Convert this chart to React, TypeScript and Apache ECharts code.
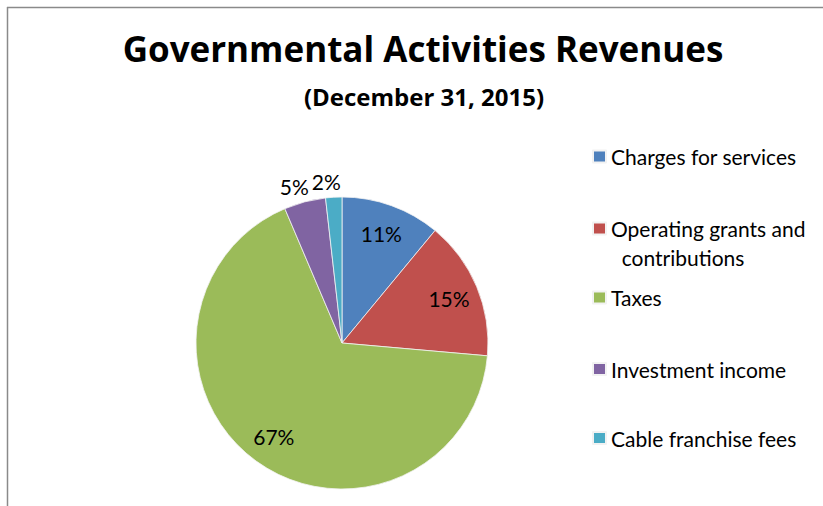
import React, { useEffect, useRef } from "react";
import * as echarts from "echarts";

const categories = [
  "Charges for services",
  "Operating grants and contributions",
  "Taxes",
  "Investment income",
  "Cable franchise fees",
];
const values = [11.0, 15.4, 67.2, 4.6, 1.8];
const colors = ["#4F81BD", "#C0504D", "#9BBB59", "#8064A2", "#4BACC6"];
const legendTops = [142, 185, 283, 354.5, 423.5];
const titleText = "Governmental Activities Revenues";
const subtitleText = "(December 31, 2015)";

const FONT = "Lato, 'Noto Sans', sans-serif";
const TITLE_FONT = "'Open Sans', Lato, sans-serif";

export default function App() {
  const ref = useRef<HTMLDivElement>(null);
  useEffect(() => {
    document.body.style.margin = "0";
    const chart = echarts.init(ref.current!, null, { renderer: "svg" });
    const data = categories.map((name, i) => ({
      name,
      value: values[i],
      itemStyle: { color: colors[i] },
    }));
    const center = ["342", "343"];
    const outerR = 146;
    const labelData = categories.map((name, i) => {
      const outside = values[i] < 8;
      return {
        name,
        value: values[i],
        label: outside
          ? { position: "outside", distanceToLabelLine: -8 }
          : { position: "inside" },
        labelLine: { show: false, length: outside ? 16 : 0, length2: 0 },
      };
    });
    const legends = categories.map((name, i) => ({
      show: true,
      orient: "vertical",
      left: 592,
      top: legendTops[i],
      padding: 0,
      itemWidth: 13,
      itemHeight: 12,
      itemGap: 5,
      icon: "rect",
      selectedMode: false,
      data: [name],
      formatter: (n: string) =>
        n === "Operating grants and contributions"
          ? " \nOperating grants and\n  contributions"
          : n,
      textStyle: {
        fontFamily: FONT,
        fontSize: 21,
        color: "#000",
        lineHeight: 29,
      },
    }));
    chart.setOption({
      animation: false,
      backgroundColor: "#fff",
      title: [
        {
          text: titleText,
          left: 418,
          top: 26,
          textAlign: "center",
          textStyle: {
            fontFamily: TITLE_FONT,
            fontWeight: "bold",
            fontSize: 35,
            color: "#000",
          },
        },
        {
          text: subtitleText,
          left: 419,
          top: 79,
          textAlign: "center",
          textStyle: {
            fontFamily: TITLE_FONT,
            fontWeight: "bold",
            fontSize: 24,
            color: "#000",
          },
        },
      ],
      legend: legends,
      graphic: [
        {
          type: "line",
          shape: { x1: 7, y1: 7.5, x2: 823, y2: 7.5 },
          style: { stroke: "#8a8a8a", lineWidth: 1.5 },
          silent: true,
        },
        {
          type: "line",
          shape: { x1: 7.5, y1: 7, x2: 7.5, y2: 506 },
          style: { stroke: "#8a8a8a", lineWidth: 1.5 },
          silent: true,
        },
      ],
      series: [
        {
          type: "pie",
          center,
          radius: [0, outerR],
          startAngle: 90,
          clockwise: true,
          avoidLabelOverlap: false,
          label: { show: false },
          labelLine: { show: false },
          itemStyle: { borderColor: "#f2f2f2", borderWidth: 0.8 },
          emphasis: { disabled: true },
          data,
        },
        {
          type: "pie",
          center,
          radius: [80, outerR],
          startAngle: 90,
          clockwise: true,
          silent: true,
          avoidLabelOverlap: false,
          itemStyle: { color: "rgba(0,0,0,0)", borderWidth: 0 },
          emphasis: { disabled: true },
          label: {
            show: true,
            formatter: (p: any) => Math.round(p.percent) + "%",
            fontFamily: FONT,
            fontSize: 21,
            color: "#000",
          },
          data: labelData,
        },
      ],
    });
    return () => chart.dispose();
  }, []);
  return <div ref={ref} style={{ width: 823, height: 506 }} />;
}
